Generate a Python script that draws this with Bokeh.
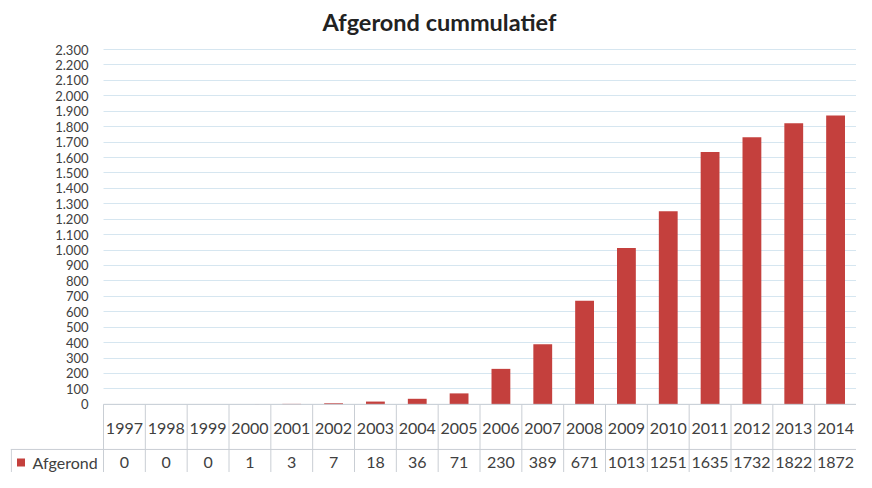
from bokeh.plotting import figure
from bokeh.models import Range1d, FixedTicker, ColumnDataSource
from bokeh.embed import file_html
from bokeh.resources import INLINE
from bokeh.core.properties import value

years = ["1997", "1998", "1999", "2000", "2001", "2002", "2003", "2004", "2005",
         "2006", "2007", "2008", "2009", "2010", "2011", "2012", "2013", "2014"]
afgerond = [0, 0, 0, 1, 3, 7, 18, 36, 71, 230, 389, 671, 1013, 1251, 1635, 1732, 1822, 1872]
series_name = "Afgerond"
title_text = "Afgerond cummulatief"
y_ticks = list(range(0, 2301, 100))

FONT = "Lato"
BAR = "#C4403D"
TXT = "#404040"
BORDER = "#C9CED4"
GRID = "#D6E6F0"

n = len(years)
xs = [i + 0.5 for i in range(n)]

W, H = 856, 472
FL = 10                     # frame left (px)
LEFT = 103                  # x=0 of the data columns (px)
unit = (W - LEFT) / n       # px per column
xmin = -(LEFT - FL) / unit  # left edge of the table's legend column

T = 41                      # expected title panel height
Y0, Y2300 = 404, 50         # pixel rows of 0 and 2300
upp = 2300 / (Y0 - Y2300)   # value units per pixel
y_end = 2300 + (Y2300 - T) * upp
y_start = -(H - Y0) * upp
y_year = -24 * upp
y_row = -45 * upp
y_val = -58 * upp

p = figure(width=W, height=H, output_backend="svg", toolbar_location=None,
           x_range=Range1d(xmin, n), y_range=Range1d(y_start, y_end),
           min_border_left=FL, min_border_right=0, min_border_bottom=0,
           min_border_top=0, title=title_text)
p.title.text_font = FONT
p.title.text_font_size = "23.5px"
p.title.text_font_style = "bold"
p.title.text_color = "#222222"
p.title.align = "left"
p.title.offset = 322 - FL
p.outline_line_color = None
p.background_fill_color = "white"
p.border_fill_color = "white"

p.xaxis.visible = False
p.xgrid.visible = False
ax = p.yaxis[0]
ax.fixed_location = 0
ax.ticker = FixedTicker(ticks=y_ticks)
ax.major_label_overrides = {t: f"{t:,}".replace(",", ".") for t in y_ticks}
ax.axis_line_color = None
ax.major_tick_line_color = None
ax.minor_tick_line_color = None
ax.major_tick_out = 0
ax.major_tick_in = 0
ax.major_label_standoff = 15
ax.major_label_text_font = FONT
ax.major_label_text_font_size = "13px"
ax.major_label_text_color = TXT
ax.bounds = (0, 2300)

grid = p.ygrid[0]
grid.ticker = FixedTicker(ticks=y_ticks)
grid.grid_line_color = GRID
grid.grid_line_width = 1
try:
    grid.cross_bounds = (0, n)
except Exception:
    grid.visible = False
    p.segment(x0=[0] * len(y_ticks), x1=[n] * len(y_ticks), y0=y_ticks, y1=y_ticks,
              line_color=GRID, line_width=1)

src = ColumnDataSource(dict(x=xs, y=afgerond, year=years, ylab=[y_year] * n,
                            vlab=[str(v) for v in afgerond], yv=[y_val] * n))
p.vbar(x="x", top="y", bottom=0, width=0.45, source=src, fill_color=BAR, line_color=None)

# data table borders
p.segment(x0=[0], x1=[n], y0=[0], y1=[0], line_color=BORDER, line_width=1)
p.segment(x0=[xmin], x1=[n], y0=[y_row], y1=[y_row], line_color=BORDER, line_width=1)
p.segment(x0=list(range(n + 1)), x1=list(range(n + 1)),
          y0=[0] * (n + 1), y1=[y_start] * (n + 1), line_color=BORDER, line_width=1)
p.segment(x0=[xmin + 0.02], x1=[xmin + 0.02], y0=[y_row], y1=[y_start],
          line_color=BORDER, line_width=1)

# table texts
p.text(x="x", y="ylab", text="year", source=src, text_font=value(FONT),
       text_font_size="16px", text_color=TXT, text_align="center", text_baseline="middle")
p.text(x="x", y="yv", text="vlab", source=src, text_font=value(FONT),
       text_font_size="16px", text_color=TXT, text_align="center", text_baseline="middle")
p.scatter(x=[xmin + 10.5 / unit], y=[y_val], marker="square", size=8,
          fill_color=BAR, line_color=None)
p.text(x=[xmin + 22 / unit], y=[y_val], text=[series_name], text_font=value(FONT),
       text_font_size="16px", text_color=TXT, text_align="left", text_baseline="middle")

open("out.html", "w").write(file_html(p, INLINE))
